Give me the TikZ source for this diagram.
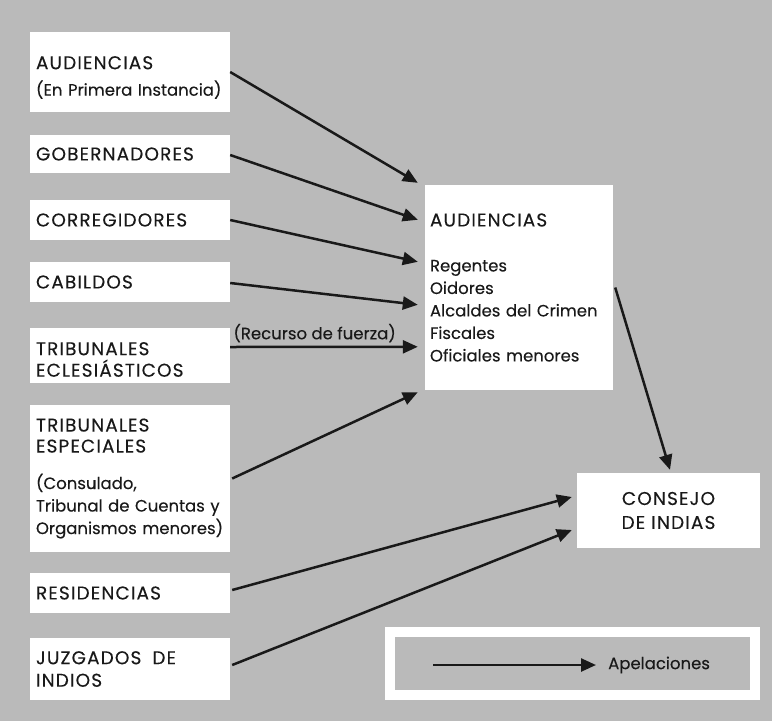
\documentclass[tikz,border=0pt]{standalone}
\usepackage{fontspec}
\setmainfont{Poppins}[FakeBold=0.15]
\usetikzlibrary{arrows.meta,positioning}
\definecolor{bg}{RGB}{186,186,186}
\definecolor{ink}{RGB}{25,25,25}
\newcommand\cp[1]{{\fontsize{18.5}{22.5}\selectfont\addfontfeature{LetterSpace=6}#1}}
\begin{document}
\begin{tikzpicture}[x=1pt,y=-1pt,
  every node/.style={font=\fontsize{16.5}{22.5}\selectfont, text=ink},
  lbox/.style={fill=white, draw=none, minimum width=200pt, text width=188pt, align=left, inner sep=0pt},
  appel/.style={draw=ink, line width=2.5pt, -{Triangle[length=15pt,width=13pt]}}
]
\fill[bg] (0,0) rectangle (772,721);
\useasboundingbox (0,0) rectangle (772,721);

% left boxes
\node[lbox, minimum height=80pt] (aud1) at (130,72) {\rule{0pt}{24pt}\cp{AUDIENCIAS}\\[4pt](En Primera Instancia)};
\node[lbox, minimum height=38pt] (gob) at (130,154) {\cp{GOBERNADORES}};
\node[lbox, minimum height=40pt] (cor) at (130,220) {\cp{CORREGIDORES}};
\node[lbox, minimum height=40pt] (cab) at (130,282) {\cp{CABILDOS}};
\node[lbox, minimum height=55pt] (ecl) at (130,355.5) {\rule{0pt}{21pt}\cp{TRIBUNALES}\\[-1pt]\cp{ECLESIÁSTICOS}};
\node[lbox, minimum height=147pt] (esp) at (130,478.5) {\cp{TRIBUNALES}\\[-1.5pt]\cp{ESPECIALES}\\[14pt](Consulado,\\Tribunal de Cuentas y\\Organismos menores)};
\node[lbox, minimum height=40pt] (res) at (130,593) {\cp{RESIDENCIAS}};
\node[lbox, minimum height=62pt] (juz) at (130,669) {\cp{JUZGADOS~~DE}\\\cp{INDIOS}};

% central box
\node[lbox, minimum width=188pt, text width=178pt, minimum height=205pt] (aud) at (519,287.5)
  {\cp{AUDIENCIAS}\\[22.5pt]Regentes\\Oidores\\Alcaldes del Crimen\\Fiscales\\Oficiales menores};

% consejo
\node[fill=white, minimum width=183pt, minimum height=75pt, align=center, inner sep=0pt,
  font=\fontsize{16.5}{24}\selectfont] (con) at (668.5,510.5) {\cp{CONSEJO}\\\cp{DE INDIAS}};

% connectors
\draw[appel] (aud1.east) -- ([xshift=-7pt,yshift=2pt]aud.north west);
\draw[appel] ([yshift=-1pt]gob.east) -- ([xshift=-7pt,yshift=-35pt]aud.north west);
\draw[appel] (cor.east) -- ([xshift=-7pt,yshift=-77pt]aud.north west);
\draw[appel] ([yshift=-1pt]cab.east) -- ([xshift=-7pt,yshift=-120pt]aud.north west);
\draw[appel] ([yshift=8.5pt]ecl.east) -- node[above=0pt, pos=0.45] (rf) {(Recurso de fuerza)} ([xshift=-7pt,yshift=-162pt]aud.north west);
\draw[appel] ([xshift=2pt]esp.east) -- ([xshift=-7pt,yshift=-2pt]aud.south west);
\draw[appel] ([xshift=2pt,yshift=3pt]res.east) -- ([xshift=-5pt,yshift=13.5pt]con.west);
\draw[appel] ([xshift=2pt,yshift=4pt]juz.east) -- ([xshift=-5pt,yshift=-19.5pt]con.west);
\draw[appel] ([xshift=2pt]aud.east) -- ([xshift=1.5pt,yshift=3pt]con.north);

% legend
\node[draw=white, line width=10pt, fill=bg, minimum width=365pt, minimum height=63pt, inner sep=0pt] (leg) at (572.5,663.5) {};
\node[anchor=west, inner sep=0pt] (apl) at (608,665) {Apelaciones};
\coordinate (ls) at (433,665);
\draw[appel] (ls) -- ([xshift=-12pt]apl.west);
\end{tikzpicture}
\end{document}
